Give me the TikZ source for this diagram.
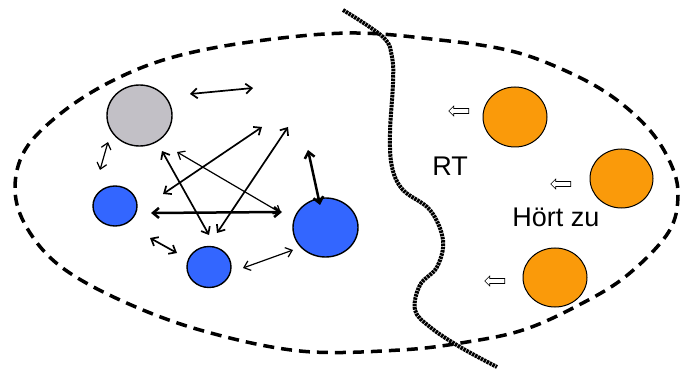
\documentclass[tikz,border=0pt]{standalone}
\usepackage{fontspec}
\setmainfont{Liberation Sans}
\usetikzlibrary{arrows.meta,shapes.geometric,shapes.arrows}
\definecolor{myblue}{HTML}{3366FF}
\definecolor{myorange}{HTML}{FA9A0A}
\definecolor{mygray}{HTML}{C2C0C6}
\tikzset{
  blob/.style={ellipse, draw=black, line width=1.4pt, inner sep=0pt},
  hollow/.style={single arrow, draw=black, fill=white, line width=0.6pt, minimum height=20pt, inner sep=2.2pt, single arrow head extend=2.5pt, single arrow tip angle=90, shape border rotate=180},
  link/.style={{Straight Barb[length=6pt,width=10pt]}-{Straight Barb[length=6pt,width=10pt]}, line width=1.7pt},
  thicklink/.style={link, line width=2.5pt},
  thinlink/.style={link, line width=1.2pt},
  lbl/.style={font=\fontsize{27}{30}\selectfont, inner sep=0pt}
}
\begin{document}
\begin{tikzpicture}[x=1pt,y=-1pt]
\useasboundingbox (0,0) rectangle (688,374);
% dashed outline
\draw[line width=3.5pt, dash pattern=on 11pt off 7pt] plot[smooth cycle, tension=0.6] coordinates {
 (350,33) (440,40) (507,50) (557,67) (607,93) (647,127) (670,162) (678,195)
 (668,233) (625,277) (575,307) (523,330) (467,342) (400,350) (300,351)
 (200,330) (120,300) (60,266) (27,228) (15,190) (25,150) (60,114) (110,82)
 (170,58) (250,42)};
% wavy separator
\draw[line width=4pt, dash pattern=on 2.5pt off 0.8pt] plot[smooth, tension=0.6] coordinates {
 (343,10) (383,37) (392,57) (393,83) (390,133) (392,167) (403,190) (430,210)
 (443,240) (437,267) (420,285) (415,310) (430,327) (460,347) (497,367)};
% circles
\node[blob, fill=mygray, minimum width=65pt, minimum height=61pt] (g) at (139.5,115.5) {};
\node[blob, fill=myblue, minimum width=44pt, minimum height=40pt] (b1) at (115,206) {};
\node[blob, fill=myblue, minimum width=44pt, minimum height=41pt] (b2) at (209,267) {};
\node[blob, fill=myblue, minimum width=65pt, minimum height=59pt] (b3) at (325.5,227.5) {};
\node[blob, fill=myorange, line width=1pt, minimum width=64pt, minimum height=60pt] (o1) at (515,117) {};
\node[blob, fill=myorange, line width=1pt, minimum width=63pt, minimum height=59pt] (o2) at (621.5,178.5) {};
\node[blob, fill=myorange, line width=1pt, minimum width=64pt, minimum height=59pt] (o3) at (555,277.5) {};
% hollow arrows
\node[hollow] (h1) at (460,111) {};
\node[hollow] (h2) at (562,184) {};
\node[hollow] (h3) at (496,281) {};
% labels
\node[lbl] (rt) at (450,166) {RT};
\node[lbl] (hz) at (556,217) {Hört zu};
% arrow ends
\coordinate (a1s) at (190,94); \coordinate (a1e) at (253,88);
\coordinate (a2s) at (100,170); \coordinate (a2e) at (108,142);
\coordinate (a3s) at (163,194); \coordinate (a3e) at (262,127);
\coordinate (a4s) at (288,127); \coordinate (a4e) at (217,233);
\coordinate (a5s) at (162,151); \coordinate (a5e) at (209,235);
\coordinate (a6s) at (177,152); \coordinate (a6e) at (281,213);
\coordinate (a7s) at (151,213); \coordinate (a7e) at (282,212);
\coordinate (a8s) at (308,150); \coordinate (a8e) at (320,205);
\coordinate (a9s) at (150,238); \coordinate (a9e) at (177,253);
\coordinate (a10s) at (243,268); \coordinate (a10e) at (293,250);
\draw[link] (a1s) -- (a1e);
\draw[thinlink] (a2s) -- (a2e);
\draw[link] (a3s) -- (a3e);
\draw[link] (a4s) -- (a4e);
\draw[link] (a5s) -- (a5e);
\draw[thinlink] (a6s) -- (a6e);
\draw[thicklink] (a7s) -- (a7e);
\draw[thicklink] (a8s) -- (a8e);
\draw[link] (a9s) -- (a9e);
\draw[thinlink] (a10s) -- (a10e);
\end{tikzpicture}
\end{document}
